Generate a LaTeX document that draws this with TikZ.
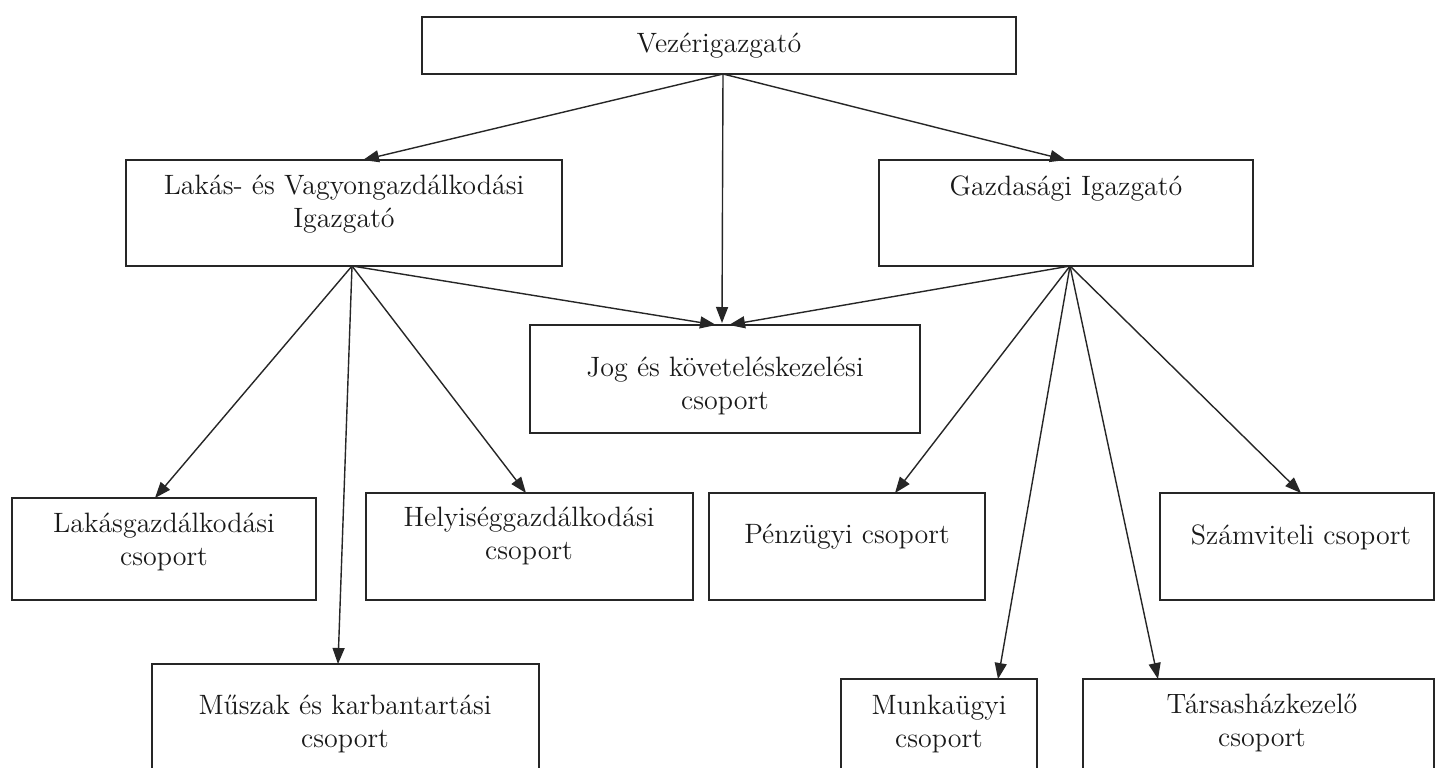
\documentclass[tikz,border=0pt]{standalone}
\usepackage{fontspec}
\usetikzlibrary{arrows.meta,fit}
\begin{document}
\begin{tikzpicture}[x=0.5pt,y=-0.5pt,
  box/.style={draw=black!85, line width=1pt, inner sep=0pt, rectangle},
  lbl/.style={align=center, inner sep=0pt, font=\fontsize{14}{16.2}\selectfont, text=black!90},
  arr/.style={draw=black!85, line width=0.7pt, -{Triangle[length=8pt,width=6pt]}}]
\useasboundingbox (0,0) rectangle (1436,767);
\clip (0,0) rectangle (1436,767);
\fill[white] (0,0) rectangle (1436,767);
% boxes
\node[box, fit={(422,17)(1016,74)}] (vez) {};
\node[lbl] (vezt) at (719,46) {Vezérigazgató};
\node[box, fit={(126,160)(562,266)}] (lvg) {};
\node[lbl] (lvgt) at (344,204) {Lakás- és Vagyongazdálkodási\\Igazgató};
\node[box, fit={(879,160)(1253,266)}] (gi) {};
\node[lbl] (git) at (1066,189) {Gazdasági Igazgató};
\node[box, fit={(530,325)(920,433)}] (jog) {};
\node[lbl] (jogt) at (725,386) {Jog és követeléskezelési\\csoport};
\node[box, fit={(12,498)(316,600)}] (lak) {};
\node[lbl] (lakt) at (164,542) {Lakásgazdálkodási\\csoport};
\node[box, fit={(366,493)(693,600)}] (hely) {};
\node[lbl] (helyt) at (529,536) {Helyiséggazdálkodási\\csoport};
\node[box, fit={(709,493)(985,600)}] (penz) {};
\node[lbl] (penzt) at (847,537) {Pénzügyi csoport};
\node[box, fit={(1160,493)(1434,600)}] (szam) {};
\node[lbl] (szamt) at (1301,537) {Számviteli csoport};
\node[box, fit={(152,664)(539,800)}] (musz) {};
\node[lbl] (muszt) at (345,724) {Műszak és karbantartási\\csoport};
\node[box, fit={(841,679)(1037,800)}] (munk) {};
\node[lbl] (munkt) at (939,724) {Munkaügyi\\csoport};
\node[box, fit={(1083,679)(1434,800)}] (tars) {};
\node[lbl] (tarst) at (1262,723) {Társasházkezelő\\csoport};
% attach points
\coordinate (vezo) at (723,74);
\coordinate (lvgi) at (363,160);
\coordinate (gii) at (1066,160);
\coordinate (jogi) at (722,323);
\coordinate (jogl) at (716,325);
\coordinate (jogr) at (729,325);
\coordinate (lvgo) at (352,266);
\coordinate (laki) at (155,498);
\coordinate (muszi) at (338,664);
\coordinate (helyi) at (526,493);
\coordinate (gio) at (1070,266);
\coordinate (penzi) at (895,493);
\coordinate (munki) at (998,679);
\coordinate (tarsi) at (1158,679);
\coordinate (szami) at (1301,493);
% connectors
\draw[arr] (vezo) -- (lvgi);
\draw[arr] (vezo) -- (gii);
\draw[arr] (vezo) -- (jogi);
\draw[arr] (lvgo) -- (laki);
\draw[arr] (lvgo) -- (muszi);
\draw[arr] (lvgo) -- (helyi);
\draw[arr] (lvgo) -- (jogl);
\draw[arr] (gio) -- (jogr);
\draw[arr] (gio) -- (penzi);
\draw[arr] (gio) -- (munki);
\draw[arr] (gio) -- (tarsi);
\draw[arr] (gio) -- (szami);
\end{tikzpicture}
\end{document}
